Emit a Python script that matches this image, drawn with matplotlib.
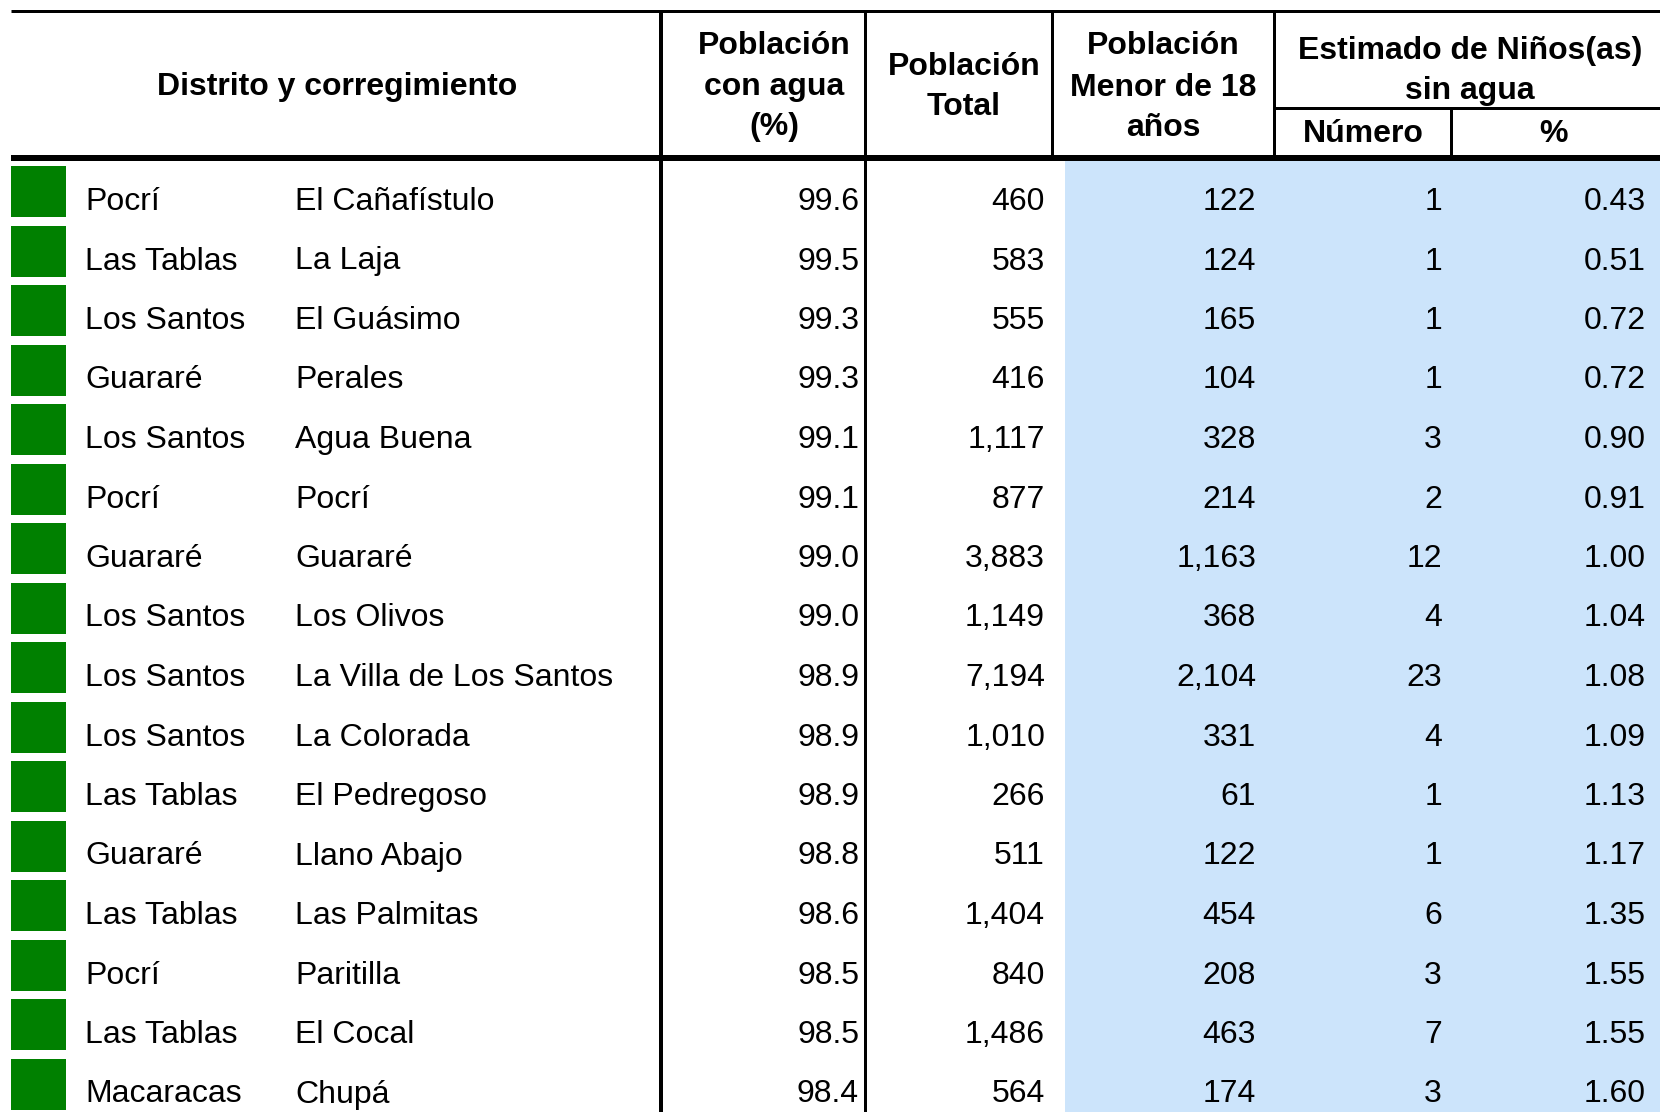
import matplotlib
matplotlib.use("Agg")
import matplotlib.pyplot as plt
from matplotlib.patches import Rectangle

# ---- data ----
distritos = ["Pocrí", "Las Tablas", "Los Santos", "Guararé", "Los Santos", "Pocrí",
             "Guararé", "Los Santos", "Los Santos", "Los Santos", "Las Tablas",
             "Guararé", "Las Tablas", "Pocrí", "Las Tablas", "Macaracas"]
corregimientos = ["El Cañafístulo", "La Laja", "El Guásimo", "Perales", "Agua Buena",
                  "Pocrí", "Guararé", "Los Olivos", "La Villa de Los Santos",
                  "La Colorada", "El Pedregoso", "Llano Abajo", "Las Palmitas",
                  "Paritilla", "El Cocal", "Chupá"]
pob_con_agua = [99.6, 99.5, 99.3, 99.3, 99.1, 99.1, 99.0, 99.0, 98.9, 98.9, 98.9,
                98.8, 98.6, 98.5, 98.5, 98.4]
pob_total = [460, 583, 555, 416, 1117, 877, 3883, 1149, 7194, 1010, 266, 511,
             1404, 840, 1486, 564]
pob_menor18 = [122, 124, 165, 104, 328, 214, 1163, 368, 2104, 331, 61, 122, 454,
               208, 463, 174]
ninos_num = [1, 1, 1, 1, 3, 2, 12, 4, 23, 4, 1, 1, 6, 3, 7, 3]
ninos_pct = [0.43, 0.51, 0.72, 0.72, 0.90, 0.91, 1.00, 1.04, 1.08, 1.09, 1.13,
             1.17, 1.35, 1.55, 1.55, 1.60]

W, H = 1660, 1112
DPI = 100
FS = 32 * 72 / DPI  # 32 px font

plt.rcParams['font.family'] = ['Liberation Sans', 'DejaVu Sans']

fig = plt.figure(figsize=(W / DPI, H / DPI), dpi=DPI)
ax = fig.add_axes([0, 0, 1, 1])
ax.set_xlim(0, W)
ax.set_ylim(H, 0)
ax.axis('off')

def px(w):
    return w * 72 / DPI

GREEN = '#008000'
BLUE = '#CCE4FB'

# geometry
row0_top = 166
pitch = 59.5
box_h = 51
body_top = 161

n = len(distritos)

# blue band
ax.add_patch(Rectangle((1065, body_top), W - 1065, H - body_top,
                       facecolor=BLUE, edgecolor='none', zorder=0))

for i in range(n):
    top = row0_top + pitch * i
    ax.add_patch(Rectangle((11, top), 55, box_h, facecolor=GREEN,
                           edgecolor='none', zorder=1))
    base = top + 44
    kw = dict(fontsize=FS, va='baseline', color='black', zorder=3)
    ax.text(85, base, distritos[i], ha='left', **kw)
    ax.text(295, base, corregimientos[i], ha='left', **kw)
    ax.text(859, base, f"{pob_con_agua[i]:.1f}", ha='right', **kw)
    ax.text(1045, base, f"{pob_total[i]:,}", ha='right', **kw)
    ax.text(1256, base, f"{pob_menor18[i]:,}", ha='right', **kw)
    ax.text(1442, base, f"{ninos_num[i]}", ha='right', **kw)
    ax.text(1646, base, f"{ninos_pct[i]:.2f}", ha='right', **kw)

# lines
lk = dict(color='black', solid_capstyle='butt', zorder=4)
ax.plot([11, W], [11, 11], lw=px(3), **lk)
ax.plot([11, W], [158, 158], lw=px(6), **lk)
ax.plot([1274, W], [107.5, 107.5], lw=px(3), **lk)
ax.plot([661, 661], [11, H], lw=px(4), **lk)
ax.plot([865, 865], [11, H], lw=px(3), **lk)
ax.plot([1052, 1052], [11, 158], lw=px(3), **lk)
ax.plot([1274, 1274], [11, 158], lw=px(3), **lk)
ax.plot([1451, 1451], [107.5, 158], lw=px(3), **lk)

# headers
hk = dict(fontsize=FS, fontweight='bold', ha='center', va='center', color='black',
          zorder=5)
d = 3.5
ax.text(337, 83 + d, "Distrito y corregimiento", **hk)
for y, t in zip([43, 84, 124], ["Población", "con agua", "(%)"]):
    ax.text(774, y + d, t, **hk)
for y, t in zip([63.5, 103.5], ["Población", "Total"]):
    ax.text(964, y + d, t, **hk)
for y, t in zip([43, 84, 124], ["Población", "Menor de 18", "años"]):
    ax.text(1163, y + d, t, **hk)
for y, t in zip([47.5, 88], ["Estimado de Niños(as)", "sin agua"]):
    ax.text(1470, y + d, t, **hk)
ax.text(1363, 131 + d, "Número", **hk)
ax.text(1553, 131 + d, "%", **hk)

fig.savefig("out.png", dpi=DPI)
